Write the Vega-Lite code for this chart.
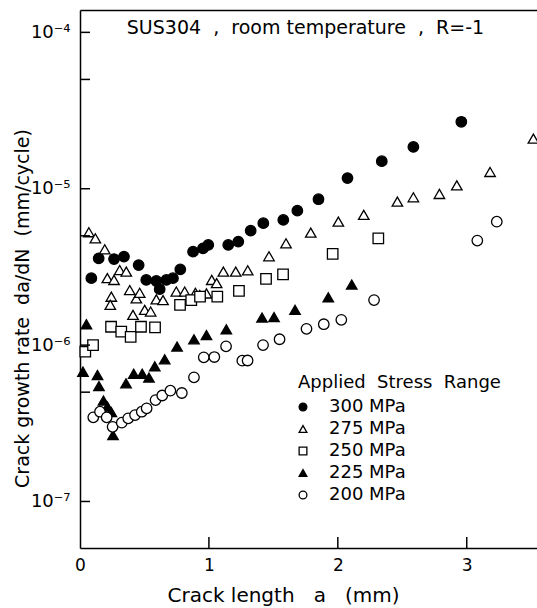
{
"$schema": "https://vega.github.io/schema/vega-lite/v6.json",
"width": 457, "height": 538,
"autosize": {"type": "none"},
"padding": {"left": 80, "top": 10, "right": 0, "bottom": 60},
"background": "white",
"config": {"view": {"stroke": null}, "font": "DejaVu Sans"},
"title": {"text": "SUS304\u00a0\u00a0,\u00a0\u00a0room temperature\u00a0\u00a0,\u00a0\u00a0R=-1", "anchor": "middle", "frame": "group", "offset": -43, "baseline": "alphabetic", "fontSize": 19, "fontWeight": "normal", "font": "DejaVu Sans", "color": "black", "dx": -3},
"datasets": {"pts": [
{"s":"300 MPa","a":0.088,"r":2.68e-6},{"s":"300 MPa","a":0.145,"r":3.59e-6},{"s":"300 MPa","a":0.264,"r":3.55e-6},{"s":"300 MPa","a":0.341,"r":3.68e-6},{"s":"300 MPa","a":0.455,"r":3.25e-6},{"s":"300 MPa","a":0.514,"r":2.61e-6},{"s":"300 MPa","a":0.592,"r":2.57e-6},{"s":"300 MPa","a":0.618,"r":2.28e-6},{"s":"300 MPa","a":0.670,"r":2.61e-6},{"s":"300 MPa","a":0.721,"r":2.68e-6},{"s":"300 MPa","a":0.778,"r":3.05e-6},{"s":"300 MPa","a":0.877,"r":3.96e-6},{"s":"300 MPa","a":0.954,"r":4.16e-6},{"s":"300 MPa","a":0.995,"r":4.37e-6},{"s":"300 MPa","a":1.150,"r":4.37e-6},{"s":"300 MPa","a":1.228,"r":4.59e-6},{"s":"300 MPa","a":1.324,"r":5.39e-6},{"s":"300 MPa","a":1.422,"r":6.02e-6},{"s":"300 MPa","a":1.577,"r":6.32e-6},{"s":"300 MPa","a":1.686,"r":7.24e-6},{"s":"300 MPa","a":1.850,"r":8.57e-6},{"s":"300 MPa","a":2.075,"r":1.17e-5},{"s":"300 MPa","a":2.341,"r":1.50e-5},{"s":"300 MPa","a":2.586,"r":1.85e-5},{"s":"300 MPa","a":2.958,"r":2.68e-5},
{"s":"275 MPa","a":0.069,"r":5.27e-6},{"s":"275 MPa","a":0.119,"r":4.82e-6},{"s":"275 MPa","a":0.192,"r":4.10e-6},{"s":"275 MPa","a":0.212,"r":2.68e-6},{"s":"275 MPa","a":0.264,"r":2.61e-6},{"s":"275 MPa","a":0.308,"r":3.02e-6},{"s":"275 MPa","a":0.359,"r":2.95e-6},{"s":"275 MPa","a":0.243,"r":2.04e-6},{"s":"275 MPa","a":0.235,"r":1.81e-6},{"s":"275 MPa","a":0.386,"r":2.25e-6},{"s":"275 MPa","a":0.437,"r":1.99e-6},{"s":"275 MPa","a":0.463,"r":2.16e-6},{"s":"275 MPa","a":0.411,"r":1.56e-6},{"s":"275 MPa","a":0.502,"r":1.68e-6},{"s":"275 MPa","a":0.548,"r":1.64e-6},{"s":"275 MPa","a":0.592,"r":1.96e-6},{"s":"275 MPa","a":0.644,"r":1.94e-6},{"s":"275 MPa","a":0.747,"r":2.20e-6},{"s":"275 MPa","a":0.812,"r":2.20e-6},{"s":"275 MPa","a":0.895,"r":2.16e-6},{"s":"275 MPa","a":0.929,"r":2.09e-6},{"s":"275 MPa","a":0.981,"r":2.14e-6},{"s":"275 MPa","a":1.022,"r":2.61e-6},{"s":"275 MPa","a":1.060,"r":2.49e-6},{"s":"275 MPa","a":1.112,"r":2.95e-6},{"s":"275 MPa","a":1.208,"r":2.95e-6},{"s":"275 MPa","a":1.301,"r":3.01e-6},{"s":"275 MPa","a":1.466,"r":3.70e-6},{"s":"275 MPa","a":1.598,"r":4.48e-6},{"s":"275 MPa","a":1.790,"r":5.24e-6},{"s":"275 MPa","a":2.004,"r":6.16e-6},{"s":"275 MPa","a":2.201,"r":6.80e-6},{"s":"275 MPa","a":2.462,"r":8.27e-6},{"s":"275 MPa","a":2.586,"r":8.82e-6},{"s":"275 MPa","a":2.788,"r":9.26e-6},{"s":"275 MPa","a":2.923,"r":1.05e-5},{"s":"275 MPa","a":3.181,"r":1.28e-5},{"s":"275 MPa","a":3.517,"r":2.09e-5},
{"s":"250 MPa","a":0.041,"r":9.07e-7},{"s":"250 MPa","a":0.101,"r":1.00e-6},{"s":"250 MPa","a":0.241,"r":1.31e-6},{"s":"250 MPa","a":0.320,"r":1.22e-6},{"s":"250 MPa","a":0.393,"r":1.13e-6},{"s":"250 MPa","a":0.473,"r":1.31e-6},{"s":"250 MPa","a":0.582,"r":1.30e-6},{"s":"250 MPa","a":0.776,"r":1.81e-6},{"s":"250 MPa","a":0.863,"r":1.94e-6},{"s":"250 MPa","a":0.931,"r":2.04e-6},{"s":"250 MPa","a":1.065,"r":2.04e-6},{"s":"250 MPa","a":1.233,"r":2.22e-6},{"s":"250 MPa","a":1.443,"r":2.65e-6},{"s":"250 MPa","a":1.575,"r":2.83e-6},{"s":"250 MPa","a":1.960,"r":3.83e-6},{"s":"250 MPa","a":2.314,"r":4.82e-6},
{"s":"225 MPa","a":0.050,"r":1.36e-6},{"s":"225 MPa","a":0.023,"r":6.76e-7},{"s":"225 MPa","a":0.136,"r":6.44e-7},{"s":"225 MPa","a":0.147,"r":5.47e-7},{"s":"225 MPa","a":0.182,"r":4.42e-7},{"s":"225 MPa","a":0.213,"r":4.04e-7},{"s":"225 MPa","a":0.243,"r":3.73e-7},{"s":"225 MPa","a":0.256,"r":2.66e-7},{"s":"225 MPa","a":0.357,"r":5.70e-7},{"s":"225 MPa","a":0.417,"r":6.56e-7},{"s":"225 MPa","a":0.483,"r":6.56e-7},{"s":"225 MPa","a":0.535,"r":6.20e-7},{"s":"225 MPa","a":0.580,"r":7.31e-7},{"s":"225 MPa","a":0.657,"r":8.11e-7},{"s":"225 MPa","a":0.753,"r":9.79e-7},{"s":"225 MPa","a":0.884,"r":1.09e-6},{"s":"225 MPa","a":0.981,"r":1.16e-6},{"s":"225 MPa","a":1.135,"r":1.26e-6},{"s":"225 MPa","a":1.412,"r":1.50e-6},{"s":"225 MPa","a":1.505,"r":1.51e-6},{"s":"225 MPa","a":1.668,"r":1.68e-6},{"s":"225 MPa","a":1.926,"r":2.02e-6},{"s":"225 MPa","a":2.108,"r":2.44e-6},
{"s":"200 MPa","a":0.103,"r":3.45e-7},{"s":"200 MPa","a":0.155,"r":3.75e-7},{"s":"200 MPa","a":0.207,"r":3.45e-7},{"s":"200 MPa","a":0.253,"r":3.00e-7},{"s":"200 MPa","a":0.324,"r":3.19e-7},{"s":"200 MPa","a":0.374,"r":3.40e-7},{"s":"200 MPa","a":0.427,"r":3.57e-7},{"s":"200 MPa","a":0.479,"r":3.75e-7},{"s":"200 MPa","a":0.517,"r":3.94e-7},{"s":"200 MPa","a":0.586,"r":4.45e-7},{"s":"200 MPa","a":0.638,"r":4.76e-7},{"s":"200 MPa","a":0.701,"r":5.11e-7},{"s":"200 MPa","a":0.790,"r":4.94e-7},{"s":"200 MPa","a":0.884,"r":6.22e-7},{"s":"200 MPa","a":0.960,"r":8.35e-7},{"s":"200 MPa","a":1.042,"r":8.39e-7},{"s":"200 MPa","a":1.133,"r":9.82e-7},{"s":"200 MPa","a":1.259,"r":7.95e-7},{"s":"200 MPa","a":1.300,"r":7.97e-7},{"s":"200 MPa","a":1.420,"r":1.00e-6},{"s":"200 MPa","a":1.548,"r":1.09e-6},{"s":"200 MPa","a":1.757,"r":1.27e-6},{"s":"200 MPa","a":1.891,"r":1.36e-6},{"s":"200 MPa","a":2.027,"r":1.45e-6},{"s":"200 MPa","a":2.281,"r":1.94e-6},{"s":"200 MPa","a":3.082,"r":4.66e-6},{"s":"200 MPa","a":3.233,"r":6.16e-6}
],
"yticks": [{"v": 1e-7}, {"v": 5e-7}, {"v": 1e-6}, {"v": 5e-6}, {"v": 1e-5}, {"v": 5e-5}, {"v": 1e-4}],
"xticks": [{"v": 1}, {"v": 2}, {"v": 3}]
},
"layer": [
{"data": {"name": "pts"},
 "mark": {"type": "point", "filled": true, "strokeWidth": 1.3, "opacity": 1, "size": 110},
 "encoding": {
  "x": {"field": "a", "type": "quantitative", "scale": {"domain": [0, 3.545], "nice": false, "zero": false},
        "axis": {"orient": "bottom", "values": [0, 1, 2, 3], "format": "d", "grid": false, "ticks": false, "domainColor": "black", "domainWidth": 1.5, "labelPadding": 9, "labelFontSize": 17, "labelColor": "black", "labelFont": "DejaVu Sans", "labelFlush": false,
                 "title": "Crack length\u00a0\u00a0\u00a0a\u00a0\u00a0\u00a0(mm)", "titleFontSize": 20, "titleFontWeight": "normal", "titleColor": "black", "titleFont": "DejaVu Sans", "titleX": 203, "titleY": 53, "titleAlign": "center", "titleBaseline": "alphabetic"}},
  "y": {"field": "r", "type": "quantitative", "scale": {"type": "log", "domain": [5.04e-8, 1.39e-4], "nice": false},
        "axis": {"orient": "left", "values": [1e-7, 1e-6, 1e-5, 1e-4], "labelExpr": "datum.value == 1e-4 ? '10⁻⁴' : datum.value == 1e-5 ? '10⁻⁵' : datum.value == 1e-6 ? '10⁻⁶' : datum.value == 1e-7 ? '10⁻⁷' : ''", "grid": false, "ticks": false, "domainColor": "black", "domainWidth": 1.5, "labelPadding": 10, "labelFontSize": 18, "labelColor": "black", "labelFont": "DejaVu Sans", "labelFlush": false, "labelOverlap": false,
                 "title": "Crack growth rate\u00a0\u00a0da/dN\u00a0\u00a0(mm/cycle)", "titleFontSize": 19, "titleFontWeight": "normal", "titleColor": "black", "titleFont": "DejaVu Sans", "titleX": -52, "titleY": 298, "titleAlign": "center", "titleBaseline": "alphabetic", "titleAngle": -90}},
  "shape": {"field": "s", "type": "nominal", "scale": {"domain": ["300 MPa", "275 MPa", "250 MPa", "225 MPa", "200 MPa"], "range": ["circle", "triangle-up", "square", "triangle-up", "circle"]},
            "legend": {"orient": "none", "legendX": 218, "legendY": 364, "title": "Applied\u00a0\u00a0Stress\u00a0\u00a0Range", "titleLimit": 400, "titleFontSize": 18, "titleFontWeight": "normal", "titleColor": "black", "titleFont": "DejaVu Sans", "titlePadding": 6, "labelFontSize": 18, "labelColor": "black", "labelFont": "DejaVu Sans", "labelOffset": 17, "labelLimit": 300, "rowPadding": 4, "symbolSize": 60, "symbolStrokeWidth": 1.3, "symbolOffset": -4, "padding": 0}},
  "fill": {"field": "s", "type": "nominal", "scale": {"domain": ["300 MPa", "275 MPa", "250 MPa", "225 MPa", "200 MPa"], "range": ["black", "white", "white", "black", "white"]},
            "legend": {"orient": "none", "legendX": 218, "legendY": 364, "title": "Applied\u00a0\u00a0Stress\u00a0\u00a0Range", "titleLimit": 400, "titleFontSize": 18, "titleFontWeight": "normal", "titleColor": "black", "titleFont": "DejaVu Sans", "titlePadding": 6, "labelFontSize": 18, "labelColor": "black", "labelFont": "DejaVu Sans", "labelOffset": 17, "labelLimit": 300, "rowPadding": 4, "symbolSize": 60, "symbolStrokeWidth": 1.3, "symbolOffset": -4, "padding": 0}},
  "stroke": {"field": "s", "type": "nominal", "scale": {"domain": ["300 MPa", "275 MPa", "250 MPa", "225 MPa", "200 MPa"], "range": ["black", "black", "black", "black", "black"]},
            "legend": {"orient": "none", "legendX": 218, "legendY": 364, "title": "Applied\u00a0\u00a0Stress\u00a0\u00a0Range", "titleLimit": 400, "titleFontSize": 18, "titleFontWeight": "normal", "titleColor": "black", "titleFont": "DejaVu Sans", "titlePadding": 6, "labelFontSize": 18, "labelColor": "black", "labelFont": "DejaVu Sans", "labelOffset": 17, "labelLimit": 300, "rowPadding": 4, "symbolSize": 60, "symbolStrokeWidth": 1.3, "symbolOffset": -4, "padding": 0}}
 }},
{"data": {"name": "pts"},
 "mark": {"type": "point", "opacity": 0},
 "encoding": {
  "x": {"field": "a", "type": "quantitative", "scale": {"domain": [0, 3.545], "nice": false, "zero": false}, "axis": {"orient": "top", "labels": false, "ticks": false, "grid": false, "title": null, "domainColor": "black", "domainWidth": 1.5}},
  "y": {"field": "r", "type": "quantitative", "scale": {"type": "log", "domain": [5.04e-8, 1.39e-4], "nice": false}, "axis": null}
 }},
{"data": {"name": "yticks"},
 "mark": {"type": "tick", "orient": "horizontal", "color": "black", "thickness": 1.5, "size": 10, "xOffset": 5, "opacity": 1},
 "encoding": {
  "y": {"field": "v", "type": "quantitative", "scale": {"type": "log", "domain": [5.04e-8, 1.39e-4], "nice": false}, "axis": null},
  "x": {"datum": 0, "type": "quantitative", "scale": {"domain": [0, 3.545], "nice": false, "zero": false}, "axis": null}
 }},
{"data": {"name": "xticks"},
 "mark": {"type": "tick", "orient": "vertical", "color": "black", "thickness": 1.5, "size": 11, "yOffset": -5.5, "opacity": 1},
 "encoding": {
  "x": {"field": "v", "type": "quantitative", "scale": {"domain": [0, 3.545], "nice": false, "zero": false}, "axis": null},
  "y": {"datum": 5.04e-8, "type": "quantitative", "scale": {"type": "log", "domain": [5.04e-8, 1.39e-4], "nice": false}, "axis": null}
 }}
],
"resolve": {"axis": {"x": "independent", "y": "independent"}}
}
